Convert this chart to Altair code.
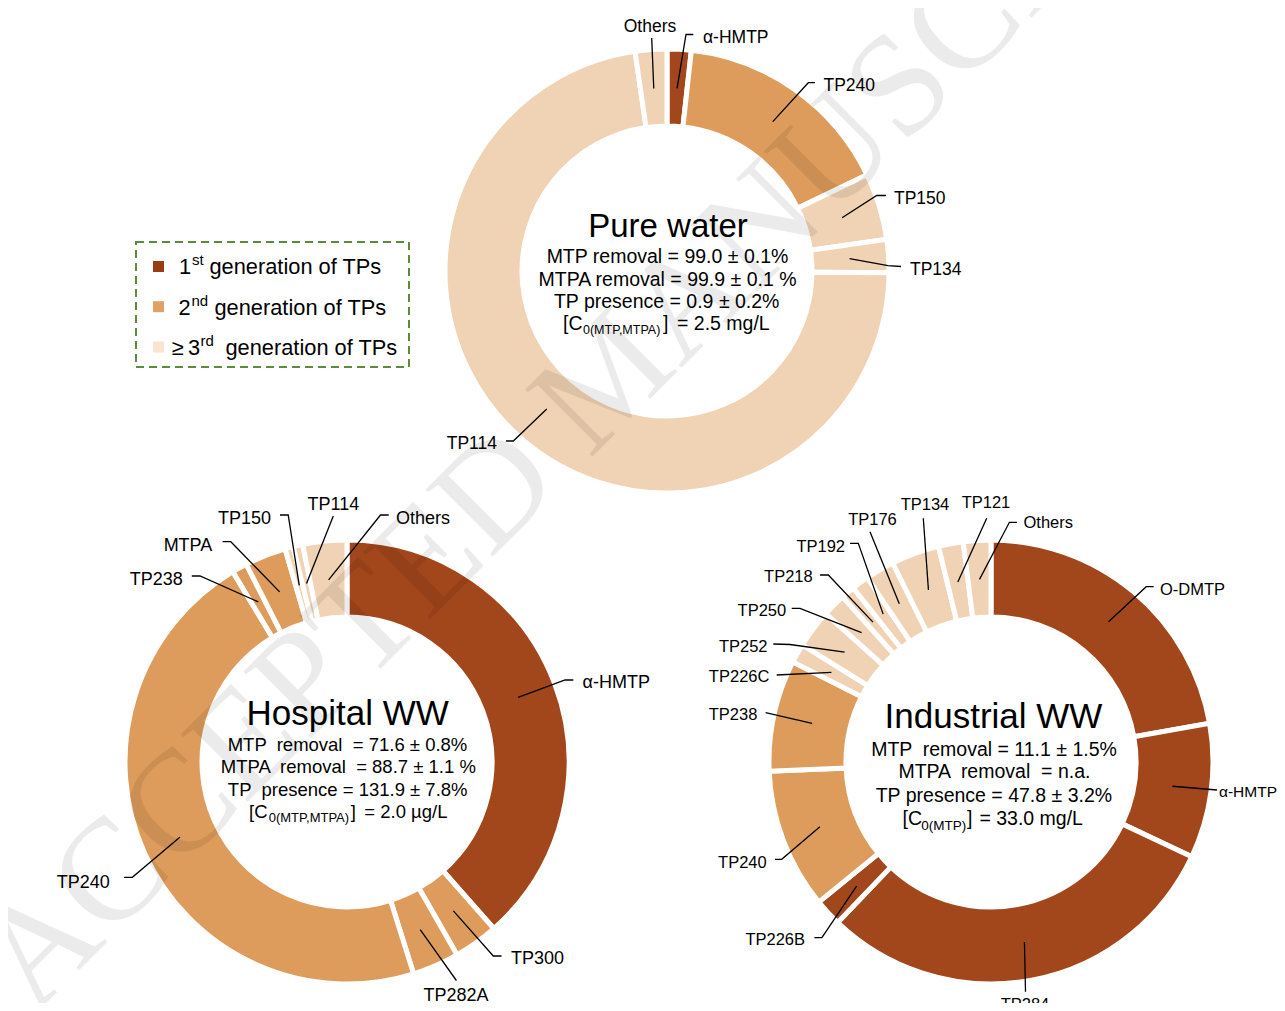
import altair as alt
import pandas as pd
import math

W, H = 1269, 995
OFF = 8
FONT = "Liberation Sans"
NB = "\u00a0"

# ---------------- data ----------------
GEN = ["1st", "2nd", "3rd"]
GEN_COLORS = ["#A2461C", "#DD9C5B", "#F0D2B4"]
LEGEND_COLORS = ["#9B3B10", "#E0A264", "#F9E3D1"]

pure_labels = ["α-HMTP", "TP240", "TP150", "TP134", "TP114", "Others"]
pure_values = [1.75, 16.1, 4.85, 2.4, 72.5, 2.3]
pure_gen = ["1st", "2nd", "3rd", "3rd", "3rd", "3rd"]

hosp_labels = ["α-HMTP", "TP300", "TP282A", "TP240", "TP238", "MTPA", "TP150", "TP114", "Others"]
hosp_values = [38.5, 3.25, 3.4, 46.25, 1.1, 3.0, 0.6, 0.7, 3.2]
hosp_gen = ["1st", "2nd", "2nd", "2nd", "2nd", "2nd", "3rd", "3rd", "3rd"]

ind_labels = ["O-DMTP", "α-HMTP", "TP284", "TP226B", "TP240", "TP238", "TP226C", "TP252",
              "TP250", "TP218", "TP192", "TP176", "TP134", "TP121", "Others"]
ind_values = [22.2, 9.8, 30.1, 2.0, 10.2, 8.1, 1.4, 2.8, 1.7, 1.0, 1.25, 2.1, 3.5, 1.8, 2.0]
ind_gen = ["1st", "1st", "1st", "1st", "2nd", "2nd", "3rd", "3rd", "3rd", "3rd", "3rd",
           "3rd", "3rd", "3rd", "3rd"]

# ---------------- layout (pixel positions of annotations) ----------------
CENTERS = {"pure": (667, 271), "hosp": (347, 762), "ind": (991, 762)}
R_OUT, R_IN, R_ANCHOR = 222, 145, 183

LEADERS = {
    "pure": {
        "Others": [(651.7, 38)],
        "α-HMTP": [(686, 34.5), (693.3, 34.5)],
        "TP240": [(808.3, 82.7), (815, 82.7)],
        "TP150": [(876.7, 195.5), (886, 195.5)],
        "TP134": [(888, 265.7), (901, 266.5)],
        "TP114": [(513.3, 441), (506, 441)],
    },
    "hosp": {
        "α-HMTP": [(565.1, 680), (573.3, 680)],
        "TP300": [(493.3, 956), (501.5, 956)],
        "TP282A": [(456.4, 980.5)],
        "TP240": [(132.3, 877.3), (124.1, 877.3)],
        "TP238": [(200, 576), (191.8, 576)],
        "MTPA": [(230.8, 541.7), (222.6, 541.7)],
        "TP150": [(288.2, 515), (280, 515)],
        "TP114": [(333.3, 516)],
        "Others": [(380.5, 515), (388.7, 515)],
    },
    "ind": {
        "O-DMTP": [(1146.2, 586.7), (1153.7, 586.7)],
        "α-HMTP": [(1217, 790)],
        "TP284": [(1025.5, 991.7)],
        "TP226B": [(821.9, 937.7), (814.4, 937.7)],
        "TP240": [(781.7, 859.3), (775, 859.3)],
        "TP238": [(765.6, 712.7)],
        "TP226C": [(776.7, 675)],
        "TP252": [(790, 644.5), (773.3, 644)],
        "TP250": [(800, 608.3), (791.7, 608.3)],
        "TP218": [(828.3, 575), (820, 575)],
        "TP192": [(858.3, 543.3), (850, 543.3)],
        "TP176": [(870, 531.7)],
        "TP134": [(923.3, 518.3)],
        "TP121": [(986.7, 518.3)],
        "Others": [(1009.4, 522.3), (1016.9, 522.3)],
    },
}

LABEL_POS = {
    "pure": (17.5, {
        "Others": (650, 31.7, "center"), "α-HMTP": (703, 43.3, "left"),
        "TP240": (823.5, 90.7, "left"), "TP150": (894, 204.3, "left"),
        "TP134": (910, 275, "left"), "TP114": (497, 449.3, "right")}),
    "hosp": (18, {
        "TP150": (271, 523.5, "right"), "TP114": (333.3, 509.5, "center"),
        "Others": (396, 523.5, "left"), "MTPA": (212.3, 550.5, "right"),
        "TP238": (182.8, 584.5, "right"), "α-HMTP": (582.5, 687.5, "left"),
        "TP240": (109.7, 887.5, "right"), "TP300": (511, 963.5, "left"),
        "TP282A": (456, 1000.5, "center")}),
    "ind": (16.5, {
        "O-DMTP": (1160, 595, "left"), "α-HMTP": (1219, 797, "left"),
        "TP284": (1025, 1010, "center"), "TP226B": (805, 945, "right"),
        "TP240": (766.7, 867.7, "right"), "TP238": (757.4, 720, "right"),
        "TP226C": (769.4, 681.7, "right"), "TP252": (767.5, 651.7, "right"),
        "TP250": (786.2, 616, "right"), "TP218": (812.7, 581.7, "right"),
        "TP192": (845, 551.7, "right"), "TP176": (872.5, 525, "center"),
        "TP134": (925, 510, "center"), "TP121": (986, 508.3, "center"),
        "Others": (1023.5, 528.3, "left")}),
}
LABEL_SIZE_OVERRIDE = {("ind", "α-HMTP"): 15.5}

CENTER_TEXT = [
    ("Pure water", 668, 236.7, "center", 33),
    ("MTP removal = 99.0 ± 0.1%", 667.5, 263.3, "center", 19.5),
    ("MTPA removal = 99.9 ± 0.1 %", 667.5, 286, "center", 19.5),
    ("TP presence = 0.9 ± 0.2%", 666.7, 308.3, "center", 19.5),
    ("[C", 563, 330, "left", 19.5),
    ("0(MTP,MTPA)", 583, 333.5, "left", 12.5),
    ("]", 663, 330, "left", 19.5),
    ("= 2.5 mg/L", 677, 330, "left", 19.5),

    ("Hospital WW", 347.6, 725, "center", 35),
    (f"MTP {NB}removal {NB}= 71.6 ± 0.8%", 347.5, 750.7, "center", 18.5),
    (f"MTPA {NB}removal {NB}= 88.7 ± 1.1 %", 348.3, 773.3, "center", 18.5),
    (f"TP {NB}presence = 131.9 ± 7.8%", 347.7, 796, "center", 18.5),
    ("[C", 249, 818.3, "left", 18.5),
    ("0(MTP,MTPA)", 268.7, 821.7, "left", 13),
    ("]", 350.8, 818.3, "left", 18.5),
    ("= 2.0 µg/L", 364.3, 818.3, "left", 18.5),

    ("Industrial WW", 993.5, 728.3, "center", 35),
    (f"MTP {NB}removal = 11.1 ± 1.5%", 994, 755.7, "center", 19.5),
    (f"MTPA {NB}removal {NB}= n.a.", 994.4, 778.3, "center", 19.5),
    ("TP presence = 47.8 ± 3.2%", 993.9, 801.7, "center", 19.5),
    ("[C", 902.5, 825, "left", 19.5),
    ("0(MTP)", 921.2, 830, "left", 13.5),
    ("]", 967, 825, "left", 19.5),
    ("= 33.0 mg/L", 979.4, 825, "left", 19.5),

    ("1", 179, 274, "left", 21.8),
    ("st", 192, 265, "left", 15),
    ("generation of TPs", 209.5, 274, "left", 21.8),
    ("2", 178.5, 315, "left", 21.8),
    ("nd", 191.5, 306, "left", 15),
    ("generation of TPs", 214.5, 315, "left", 21.8),
    ("≥", 172, 355, "left", 21.8),
    ("3", 188, 355, "left", 21.8),
    ("rd", 200.5, 346, "left", 15),
    ("generation of TPs", 225.5, 355, "left", 21.8),
]

LEGEND_BOX = (136, 242, 409, 367)
LEGEND_SQ = [(158.5, 266.5), (158.5, 306.7), (158.5, 347)]

# ---------------- build ----------------
XS = alt.Scale(domain=[OFF, W + OFF], range=[0, W], nice=False, zero=False)
YS = alt.Scale(domain=[OFF, H + OFF], reverse=True, nice=False, zero=False)


def xenc(f="x"):
    return alt.X(f"{f}:Q", scale=XS, axis=None)


def yenc(f="y"):
    return alt.Y(f"{f}:Q", scale=YS, axis=None)


donuts = {
    "pure": (pure_labels, pure_values, pure_gen),
    "hosp": (hosp_labels, hosp_values, hosp_gen),
    "ind": (ind_labels, ind_values, ind_gen),
}

layers = []
line_rows = []
text_rows = []

for key, (labels, values, gens) in donuts.items():
    cx, cy = CENTERS[key]
    df = pd.DataFrame({"label": labels, "value": values, "gen": gens,
                       "order": list(range(len(labels)))})
    layers.append(
        alt.Chart(df).mark_arc(outerRadius=R_OUT, innerRadius=R_IN,
                               stroke="white", strokeWidth=5).encode(
            theta=alt.Theta("value:Q", stack="normalize"),
            color=alt.Color("gen:N", scale=alt.Scale(domain=GEN, range=GEN_COLORS), legend=None),
            order=alt.Order("order:Q"),
            x=alt.value(cx - OFF),
            y=alt.value(cy - OFF),
        )
    )
    total = sum(values)
    cum = 0.0
    fs, pos = LABEL_POS[key]
    for lab, v in zip(labels, values):
        mid = (cum + v / 2) / total * 2 * math.pi
        cum += v
        ax = cx + R_ANCHOR * math.sin(mid)
        ay = cy - R_ANCHOR * math.cos(mid)
        lid = f"{key}-{lab}"
        pts = [(ax, ay)] + LEADERS[key][lab]
        for i, (px, py) in enumerate(pts):
            line_rows.append({"lid": lid, "seq": i, "x": px, "y": py})
        tx, ty, al = pos[lab]
        size = LABEL_SIZE_OVERRIDE.get((key, lab), fs)
        text_rows.append({"t": lab, "x": tx, "y": ty, "align": al, "size": size})

for t, x, y, al, s in CENTER_TEXT:
    text_rows.append({"t": t, "x": x, "y": y, "align": al, "size": s})

lines_df = pd.DataFrame(line_rows)
layers.append(
    alt.Chart(lines_df).mark_line(color="black", strokeWidth=1.3).encode(
        x=xenc(), y=yenc(), detail="lid:N", order="seq:Q")
)

# legend box
bx1, by1, bx2, by2 = LEGEND_BOX
box_df = pd.DataFrame({"x": [bx1], "x2": [bx2], "y": [by1], "y2": [by2]})
layers.append(
    alt.Chart(box_df).mark_rect(fillOpacity=0, stroke="#5B8C3A", strokeWidth=2,
                                strokeDash=[8, 5]).encode(
        x=xenc(), x2="x2:Q", y=yenc(), y2="y2:Q")
)
for (sx, sy), c in zip(LEGEND_SQ, LEGEND_COLORS):
    layers.append(
        alt.Chart(pd.DataFrame({"x": [sx], "y": [sy]})).mark_square(
            size=121, color=c, opacity=1).encode(x=xenc(), y=yenc())
    )

text_df = pd.DataFrame(text_rows)
for al in ["left", "center", "right"]:
    sub = text_df[text_df["align"] == al]
    if len(sub) == 0:
        continue
    layers.append(
        alt.Chart(sub).mark_text(align=al, baseline="alphabetic", font=FONT,
                                 color="black").encode(
            x=xenc(), y=yenc(), text="t:N",
            size=alt.Size("size:Q", scale=None, legend=None))
    )

# watermark
wm = pd.DataFrame({"t": ["ACCEPTED MANUSCRIPT"], "x": [611], "y": [376]})
layers.append(
    alt.Chart(wm).mark_text(font="Liberation Serif", fontSize=145, angle=315,
                            align="center", baseline="middle", color="black",
                            opacity=0.075).encode(x=xenc(), y=yenc(), text="t:N")
)

chart = alt.layer(*layers).properties(
    width=W, height=H, padding=0,
    autosize=alt.AutoSizeParams(type="none"),
).configure_view(stroke=None)

chart.save("out.html", embed_options={"renderer": "svg", "actions": False})
